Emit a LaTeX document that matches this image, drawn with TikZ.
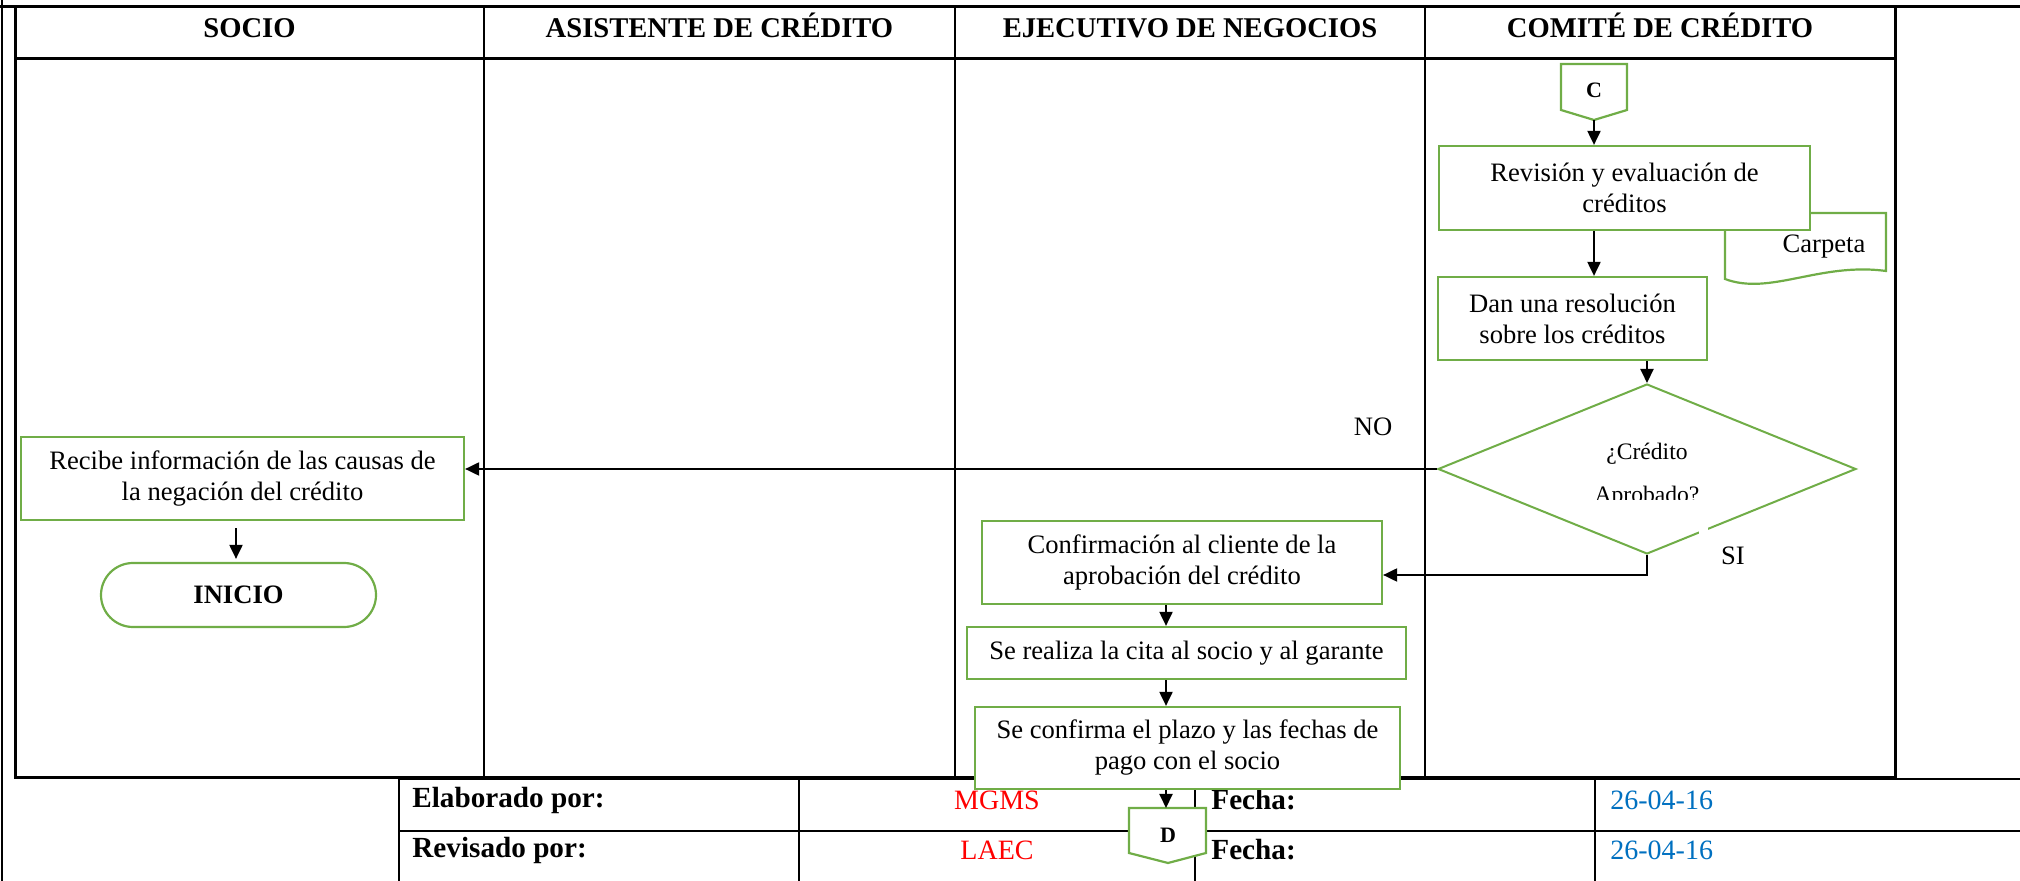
\documentclass[tikz,border=0pt]{standalone}
\usepackage{fontspec}
\setmainfont{Liberation Serif}
\usetikzlibrary{arrows.meta,shapes.geometric}
\definecolor{boxgreen}{RGB}{112,173,71}
\definecolor{dateblue}{RGB}{0,112,192}
\definecolor{signred}{RGB}{255,0,0}
\begin{document}
\begin{tikzpicture}[x=0.5pt,y=-0.5pt,
  every node/.style={font=\fontsize{13.3}{15.5}\selectfont},
  procbox/.style={draw=boxgreen,line width=1.1pt,fill=white,align=center,inner sep=0pt},
  greenline/.style={draw=boxgreen,line width=1.1pt,fill=white},
  flowarrow/.style={line width=1pt,-{Triangle[width=6.5pt,length=7pt]}},
  heavy/.style={line width=1.5pt},
  thinrule/.style={line width=1.1pt},
  headtext/.style={font=\fontsize{14.3}{16}\selectfont\bfseries,anchor=base},
  footlabel/.style={font=\fontsize{14.6}{16}\selectfont\bfseries,anchor=west,inner sep=0pt},
  footvalue/.style={font=\fontsize{14}{16}\selectfont},
  conntext/.style={font=\fontsize{11}{13}\selectfont\bfseries},
]
\useasboundingbox (0,0) rectangle (2020,881);

% ---------- frame and swimlane table ----------
\draw[heavy] (0,7) -- (2020,7);
\draw[thinrule] (2,0) -- (2,881);
\draw[heavy] (15,7) -- (15,778) -- (1895,778) -- (1895,7);
\draw[heavy] (15,59) -- (1895,59);
\foreach \x in {484,955,1425} \draw[thinrule] (\x,7) -- (\x,778);

% ---------- footer table ----------
\draw[thinrule] (1895,779) -- (2020,779);
\draw[heavy] (399,779) -- (1895,779);
\draw[thinrule] (399,831) -- (2020,831);
\foreach \x in {399,799,1195,1595} \draw[thinrule] (\x,779) -- (\x,881);

% ---------- headers ----------
\node[headtext] (hsocio) at (249.5,38) {SOCIO};
\node[headtext] (hasist) at (719.5,38) {ASISTENTE DE CRÉDITO};
\node[headtext] (hejec) at (1190,38) {EJECUTIVO DE NEGOCIOS};
\node[headtext] (hcomite) at (1660,38) {COMITÉ DE CRÉDITO};

% ---------- footer texts ----------
\node[footlabel] (elab) at (412,800) {Elaborado por:};
\node[footvalue,text=signred] (mgms) at (997,800) {MGMS};
\node[footlabel] (fecha1) at (1211,800) {Fecha:};
\node[footvalue,text=dateblue,anchor=west,inner sep=0pt] (date1) at (1610,800) {26-04-16};
\node[footlabel] (revis) at (412,850) {Revisado por:};
\node[footvalue,text=signred] (laec) at (997,850) {LAEC};
\node[footlabel] (fecha2) at (1211,850) {Fecha:};
\node[footvalue,text=dateblue,anchor=west,inner sep=0pt] (date2) at (1610,850) {26-04-16};

% ---------- comité lane ----------
\draw[greenline] (1561,64) -- (1627,64) -- (1627,110) -- (1594,120) -- (1561,110) -- cycle;
\node[conntext] (ctext) at (1594,90) {C};
\coordinate (Cpt) at (1594,120);

\draw[greenline] (1725,279) -- (1725,213) -- (1886,213) -- (1886,271)
  .. controls (1820,262) and (1770,296) .. (1725,279) -- cycle;
\node (carpeta) at (1824,247) {Carpeta};

\node[procbox,minimum width=185.5pt,minimum height=42pt] (revision) at (1624.5,188)
  {Revisión y evaluación de\\créditos};
\node[procbox,minimum width=134.5pt,minimum height=41.5pt] (dan) at (1572.5,318.5)
  {Dan una resolución\\sobre los créditos};

\node[diamond,draw=boxgreen,line width=1pt,fill=white,inner sep=0pt,
  minimum width=209pt,minimum height=85pt] (dec) at (1647,469) {};
\begin{scope}
  \clip (1500,430) rectangle (1800,500);
  \node[anchor=base,font=\fontsize{11.8}{14}\selectfont] (q1) at (1647,460) {¿Crédito};
  \node[anchor=base,font=\fontsize{11.8}{14}\selectfont] (q2) at (1647,503) {Aprobado?};
\end{scope}
\fill[white] (1699,526) rectangle (1708,535);

\node (nolabel) at (1373,427) {NO};
\node (silabel) at (1733,556) {SI};

% ---------- socio lane ----------
\node[procbox,minimum width=221.5pt,minimum height=41.5pt] (recibe) at (242.5,478.5)
  {Recibe información de las causas de\\la negación del crédito};
\node[procbox,minimum width=137.5pt,minimum height=32pt,rounded corners=16pt,
  font=\fontsize{13.3}{15.5}\selectfont\bfseries] (inicio) at (238.5,595) {INICIO};
\coordinate (ix) at (236,0);

% ---------- ejecutivo lane ----------
\node[procbox,minimum width=200pt,minimum height=41.5pt] (confirm) at (1182,562.5)
  {Confirmación al cliente de la\\aprobación del crédito};
\node[procbox,minimum width=219.5pt,minimum height=26pt] (realiza) at (1186.5,653)
  {Se realiza la cita al socio y al garante};
\node[procbox,minimum width=212.5pt,minimum height=41pt] (confirma) at (1187.5,748)
  {Se confirma el plazo y las fechas de\\pago con el socio};

\draw[greenline] (1129,808) -- (1206,808) -- (1206,853) -- (1168,863) -- (1129,853) -- cycle;
\node[conntext] (dtext) at (1168,835) {D};
\coordinate (Dtop) at (1166,808);
\coordinate (ax) at (1166,0);

% ---------- connectors ----------
\draw[flowarrow] (Cpt) -- (Cpt |- revision.north);
\draw[flowarrow] (revision.south -| Cpt) -- (dan.north -| Cpt);
\draw[flowarrow] (dec.north |- dan.south) -- (dec.north);
\draw[flowarrow] (dec.west) -- (dec.west -| recibe.east);
\draw[flowarrow] (dec.south) |- ([yshift=-6.25pt]confirm.east);
\draw[flowarrow,shorten <=3.5pt,shorten >=1.5pt] (recibe.south -| ix) -- (inicio.north -| ix);
\draw[flowarrow] (confirm.south -| ax) -- (realiza.north -| ax);
\draw[flowarrow] (realiza.south -| ax) -- (confirma.north -| ax);
\draw[flowarrow] (confirma.south -| ax) -- (Dtop);
\end{tikzpicture}
\end{document}
